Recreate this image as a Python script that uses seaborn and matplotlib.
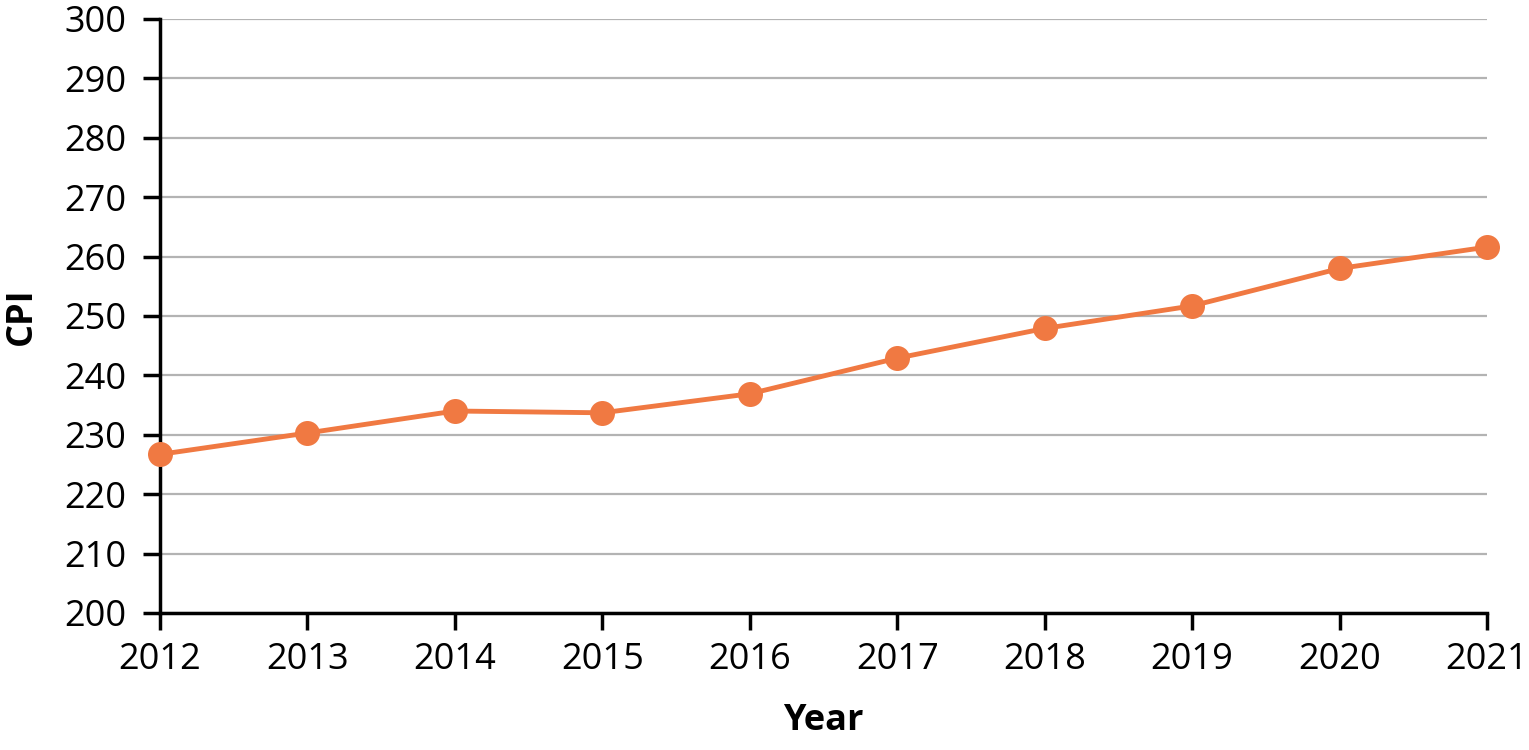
import matplotlib
matplotlib.use("Agg")
import matplotlib.pyplot as plt
import seaborn as sns
import pandas as pd

years = [2012, 2013, 2014, 2015, 2016, 2017, 2018, 2019, 2020, 2021]
cpi = [226.7, 230.3, 234.0, 233.7, 236.9, 242.9, 247.9, 251.7, 258.0, 261.6]
y_ticks = [200, 210, 220, 230, 240, 250, 260, 270, 280, 290, 300]

df = pd.DataFrame({"Year": years, "CPI": cpi})

sns.set_style("white")
plt.rcParams["font.family"] = ["Open Sans", "DejaVu Sans"]
plt.rcParams["text.color"] = "black"
plt.rcParams["axes.labelcolor"] = "black"

fig = plt.figure(figsize=(15.29, 7.5), dpi=100)
ax = fig.add_axes([0.1046, 0.1827, 0.868, 0.792])

sns.lineplot(data=df, x="Year", y="CPI", ax=ax, color="#F07942",
             linewidth=3.5, marker="o", markersize=18, markeredgewidth=0,
             clip_on=False, zorder=3)

ax.set_xlim(2012, 2021)
ax.set_ylim(200, 300)
ax.set_xticks(years)
ax.set_yticks(y_ticks)
ax.yaxis.grid(True, color="#b3b3b3", linewidth=1.6)
ax.xaxis.grid(False)

ax.spines["top"].set_visible(False)
ax.spines["right"].set_visible(False)
for s in ["left", "bottom"]:
    ax.spines[s].set_linewidth(2.5)
    ax.spines[s].set_color("black")

ax.tick_params(axis="both", direction="out", length=12, width=2.5,
               colors="black", labelsize=26,
               bottom=True, left=True)
ax.tick_params(axis="y", pad=12)
ax.tick_params(axis="x", pad=9)

ax.set_xlabel("Year", fontsize=26, fontweight="bold", labelpad=18)
ax.set_ylabel("CPI", fontsize=26, fontweight="bold", labelpad=18)

fig.savefig("out.png", dpi=100)
